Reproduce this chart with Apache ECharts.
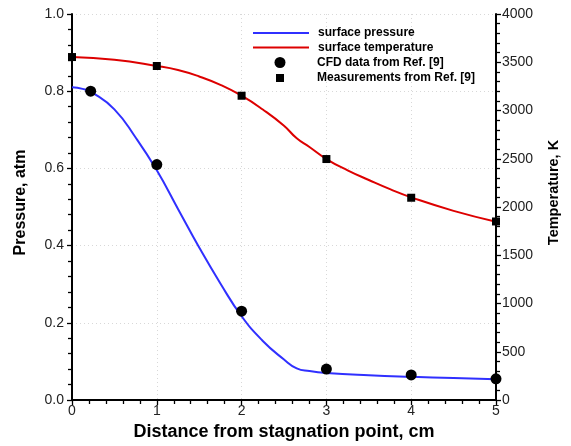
<!DOCTYPE html>
<html>
<head>
<meta charset="utf-8">
<script src="https://cdn.jsdelivr.net/npm/echarts@6/dist/echarts.min.js"></script>
<style>
html,body{margin:0;padding:0;background:#fff;}
#chart{width:571px;height:446px;}
</style>
</head>
<body>
<div id="chart"></div>
<script>
// Surface pressure curve (atm) vs distance (cm)
const pressureX = [0, 0.125, 0.25, 0.5, 0.75, 1.0, 1.25, 1.5, 1.75, 2.0, 2.25, 2.5, 2.65, 2.8, 3.0, 3.5, 4.0, 4.5, 5.0];
const pressureY = [0.810, 0.806, 0.795, 0.753, 0.680, 0.595, 0.495, 0.395, 0.302, 0.217, 0.153, 0.105, 0.082, 0.075, 0.070, 0.064, 0.060, 0.057, 0.054];
// Surface temperature curve (K) vs distance (cm)
const temperatureX = [0, 0.5, 1.0, 1.25, 1.5, 1.75, 2.0, 2.25, 2.5, 2.65, 2.8, 3.0, 3.25, 3.5, 3.75, 4.0, 4.5, 5.0];
const temperatureY = [3554, 3525, 3462, 3420, 3353, 3266, 3153, 3010, 2842, 2712, 2622, 2497, 2380, 2280, 2185, 2100, 1960, 1848];
// CFD data from Ref. [9] (pressure, atm)
const cfdX = [0.22, 1, 2, 3, 4, 5];
const cfdY = [0.80, 0.61, 0.23, 0.08, 0.065, 0.055];
// Measurements from Ref. [9] (temperature, K)
const measX = [0, 1, 2, 3, 4, 5];
const measY = [3554, 3461, 3153, 2497, 2096, 1850];
// Axis ticks
const xTicks = [0, 1, 2, 3, 4, 5];
const pressureTicks = [0, 0.2, 0.4, 0.6, 0.8, 1.0];
const temperatureTicks = [0, 500, 1000, 1500, 2000, 2500, 3000, 3500, 4000];
const seriesNames = ['surface pressure', 'surface temperature', 'CFD data from Ref. [9]', 'Measurements from Ref. [9]'];

const zip = (xs, ys) => xs.map((x, i) => [x, ys[i]]);
const FONT = "'Liberation Sans', Arial, Helvetica, sans-serif";
const blue = '#3030ff';
const red = '#dd0000';

const axisCommon = {
  axisLine: { show: true, onZero: false, lineStyle: { color: '#000', width: 2 } },
  axisTick: { show: true, inside: false, length: 5, lineStyle: { color: '#000', width: 1.3 } },
  minorTick: { show: true, splitNumber: 5, length: 4, lineStyle: { color: '#000', width: 1.3 } },
  axisLabel: { color: '#222', fontSize: 14, fontFamily: FONT },
  nameLocation: 'middle'
};

const legendBase = {
  left: 252, padding: 0, itemWidth: 56, itemHeight: 11, selectedMode: false, symbolKeepAspect: true,
  textStyle: { fontSize: 12, fontWeight: 'bold', color: '#000', fontFamily: FONT, padding: [0, 0, 0, 4] }
};
const circleIcon = 'path://M0,0M56,11M22.5,5.5A5.5,5.5,0,1,1,33.5,5.5A5.5,5.5,0,1,1,22.5,5.5Z';
const squareIcon = 'path://M0,0M56,11M24,1.5L32,1.5L32,9.5L24,9.5Z';

const option = {
  backgroundColor: '#fff',
  animation: false,
  grid: { left: 72, right: 75, top: 14, bottom: 46, containLabel: false },
  legend: [
    Object.assign({}, legendBase, { top: 27, data: [seriesNames[0]], itemStyle: { opacity: 0 } }),
    Object.assign({}, legendBase, { top: 41.5, data: [seriesNames[1]], itemStyle: { opacity: 0 } }),
    Object.assign({}, legendBase, { top: 56.5, data: [{ name: seriesNames[2], icon: circleIcon }] }),
    Object.assign({}, legendBase, { top: 72, data: [{ name: seriesNames[3], icon: squareIcon }] })
  ],
  xAxis: Object.assign({}, axisCommon, {
    type: 'value', min: xTicks[0], max: xTicks[xTicks.length - 1], interval: 1,
    name: 'Distance from stagnation point, cm', nameGap: 23,
    nameTextStyle: { fontSize: 18, fontWeight: 'bold', color: '#000', fontFamily: FONT },
    axisLabel: Object.assign({}, axisCommon.axisLabel, { margin: 4 }),
    splitLine: { show: true, lineStyle: { color: '#d8d8d8', type: [1, 3], width: 1 } }
  }),
  yAxis: [
    Object.assign({}, axisCommon, {
      type: 'value', position: 'left', min: pressureTicks[0], max: pressureTicks[pressureTicks.length - 1], interval: 0.2,
      name: 'Pressure, atm', nameGap: 43, nameRotate: 90,
      nameTextStyle: { fontSize: 16, fontWeight: 'bold', color: '#000', fontFamily: FONT, padding: [0, 0, 0, 9] },
      axisLabel: Object.assign({}, axisCommon.axisLabel, { margin: 8, formatter: v => v.toFixed(1) }),
      splitLine: { show: true, lineStyle: { color: '#d8d8d8', type: [1, 3], width: 1 } }
    }),
    Object.assign({}, axisCommon, {
      type: 'value', position: 'right', min: temperatureTicks[0], max: temperatureTicks[temperatureTicks.length - 1], interval: 500,
      name: 'Temperature, K', nameGap: 50, nameRotate: 90,
      nameTextStyle: { fontSize: 14.5, fontWeight: 'bold', color: '#000', fontFamily: FONT, padding: [0, 0, 0, 29] },
      axisLabel: Object.assign({}, axisCommon.axisLabel, { margin: 6, formatter: v => String(v) }),
      splitLine: { show: false }
    })
  ],
  series: [
    {
      name: seriesNames[0], type: 'line', yAxisIndex: 0, data: zip(pressureX, pressureY),
      smooth: 0.5, symbol: 'none', lineStyle: { color: blue, width: 2 }, itemStyle: { color: blue }, z: 3
    },
    {
      name: seriesNames[1], type: 'line', yAxisIndex: 1, data: zip(temperatureX, temperatureY),
      smooth: 0.5, symbol: 'none', lineStyle: { color: red, width: 2 }, itemStyle: { color: red }, z: 3
    },
    {
      name: seriesNames[2], type: 'scatter', yAxisIndex: 0, data: zip(cfdX, cfdY),
      symbol: 'circle', symbolSize: 11, itemStyle: { color: '#000', opacity: 1 }, clip: false, z: 4
    },
    {
      name: seriesNames[3], type: 'scatter', yAxisIndex: 1, data: zip(measX, measY),
      symbol: 'rect', symbolSize: 8, itemStyle: { color: '#000', opacity: 1 }, clip: false, z: 4
    }
  ]
};

const chart = echarts.init(document.getElementById('chart'), null, { renderer: 'canvas' });
chart.setOption(option);
</script>
</body>
</html>
